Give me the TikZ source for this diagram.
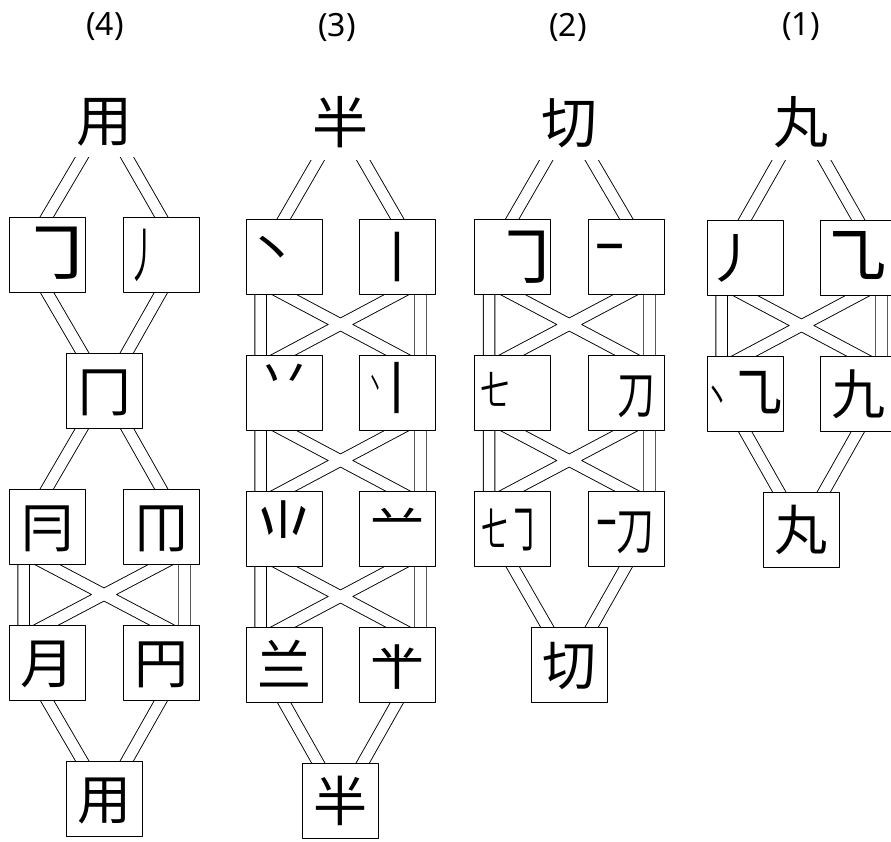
\documentclass[tikz,border=0pt]{standalone}
\usepackage{fontspec}
\usepackage{graphicx}
\newfontfamily\cjk{Noto Sans CJK TC}
\newfontfamily\numfont{Noto Sans}
\usetikzlibrary{calc,backgrounds}

% one stroke (or part) of a character, moved inside its box
\newcommand{\bihua}[3]{\makebox[0pt]{\hspace*{#1}\hspace*{#1}\raisebox{#2}{#3}}}
% a link between two anchors, run on into both ends
\newcommand{\lnk}[2]{($(#1)!-14pt!(#2)$) -- ($(#2)!-14pt!(#1)$)}

\begin{document}
\begin{tikzpicture}[
    x = 1pt, y = -1pt,
    line join=round,
    box/.style = {draw, line width=0.9pt, fill=white, minimum width=76pt, minimum height=75pt,
                  inner sep=0pt, text height=47.5pt, text depth=6.5pt, font=\cjk\fontsize{54}{54}\selectfont},
    title/.style = {fill=white, inner sep=0pt, minimum width=64pt, minimum height=74pt,
                  text height=49pt, text depth=7pt, font=\cjk\fontsize{56}{56}\selectfont},
    num/.style = {inner sep=0pt, font=\numfont\fontsize{32}{32}\selectfont},
    dbl/.style = {line width=0.9pt, double=white, double distance=10.6pt}
]
    \useasboundingbox (0,0) rectangle (891,841);

    % numbers
    \node[num] (n4) at (105,27) {(4)};
    \node[num] (n3) at (337,27) {(3)};
    \node[num] (n2) at (568,27) {(2)};
    \node[num] (n1) at (801,27) {(1)};

    % (4)
    \node[title] (t4) at (104.5,120) {用};
    \node[box] (a4) at (47,254.5) {\bihua{12pt}{-2pt}{\scalebox{1.5}[1.25]{㇆}}};
    \node[box] (b4) at (161,254.5) {\bihua{-18pt}{-2pt}{\scalebox{0.55}[1.1]{丿}}};
    \node[box] (c4) at (104.5,390.5) {\bihua{0pt}{0pt}{冂}};
    \node[box] (d4) at (47,526.5) {\bihua{0pt}{0pt}{冃}};
    \node[box] (e4) at (161,526.5) {\bihua{0pt}{0pt}{冂}\bihua{1pt}{0pt}{\scalebox{1}[0.88]{丨}}};
    \node[box] (f4) at (47,662.5) {\bihua{0pt}{0pt}{月}};
    \node[box] (g4) at (161,662.5) {\bihua{0pt}{0pt}{円}};
    \node[box] (h4) at (104.5,798.5) {\bihua{0pt}{0pt}{用}};

    % (3)
    \node[title] (t3) at (340.5,122.5) {半};
    \node[box] (a3) at (284,256.5) {\bihua{-12pt}{8pt}{丶}};
    \node[box] (b3) at (397,256.5) {\bihua{0pt}{0pt}{丨}};
    \node[box] (c3) at (284,392.5) {\bihua{0pt}{19pt}{丷}};
    \node[box] (d3) at (397,392.5) {\bihua{-8pt}{0pt}{\raisebox{15pt}{\scalebox{0.3}[0.7]{丶}}\raisebox{5pt}{\bfseries\scalebox{0.5}[1]{丨}}}};
    \node[box] (e3) at (284,528.5) {\bihua{0pt}{-40pt}{\scalebox{1.05}[2]{⺌}}};
    \node[box] (f3) at (397,528.5) {\bihua{0pt}{10pt}{䒑}};
    \node[box] (g3) at (284,664.5) {\bihua{0pt}{0pt}{兰}};
    \node[box] (h3) at (397,664.5) {\bihua{0pt}{6pt}{䒑}\bihua{0pt}{0pt}{\scalebox{1}[0.9]{丨}}};
    \node[box] (k3) at (340.5,800.5) {\bihua{0pt}{0pt}{半}};

    % (2)
    \node[title] (t2) at (569,122.5) {切};
    \node[box] (a2) at (512.5,256.5) {\bihua{16pt}{-4pt}{\scalebox{1.3}[1.25]{㇆}}};
    \node[box] (b2) at (626,256.5) {\bihua{-16pt}{10pt}{\scalebox{0.5}[1]{一}}};
    \node[box] (c2) at (512.5,392.5) {\bihua{-17pt}{8pt}{\scalebox{0.55}[0.75]{七}}};
    \node[box] (d2) at (626,392.5) {\bihua{10pt}{0pt}{\scalebox{0.7}[0.95]{刀}}};
    \node[box] (e2) at (512.5,528.5) {\bihua{-1pt}{0pt}{\raisebox{3pt}{\scalebox{0.5}[0.85]{七}}\scalebox{0.6}[1]{㇆}}};
    \node[box] (f2) at (626,528.5) {\bihua{0pt}{0pt}{\raisebox{6pt}{\scalebox{0.35}[1]{一}}\scalebox{0.7}[0.95]{刀}}};
    \node[box] (g2) at (569.5,664.5) {\bihua{0pt}{0pt}{切}};

    % (1)
    \node[title] (t1) at (801.5,122.5) {丸};
    \node[box] (a1) at (745,257.5) {\bihua{-12pt}{0pt}{丿}};
    \node[box] (b1) at (858,257.5) {\bihua{-3pt}{-4pt}{\scalebox{1.25}[1.3]{㇈}}};
    \node[box] (c1) at (745,393.5) {\bihua{0pt}{-2pt}{\raisebox{4pt}{\scalebox{0.45}[0.8]{丶}}\scalebox{1}[1.15]{㇈}}};
    \node[box] (d1) at (858,393.5) {\bihua{0pt}{0pt}{九}};
    \node[box] (e1) at (801.5,529.5) {\bihua{0pt}{0pt}{丸}};

    \begin{scope}[on background layer]
        % from each title down to its first pair
        \foreach \t/\l/\r in {t4/a4/b4, t3/a3/b3, t2/a2/b2, t1/a1/b1}
            \draw[dbl] \lnk{[xshift=-22.5pt]\t.south}{\l.north} \lnk{[xshift=22.5pt]\t.south}{\r.north};

        % one box splits into a pair
        \draw[dbl] \lnk{a4.south}{[xshift=-22.5pt]c4.north} \lnk{b4.south}{[xshift=22.5pt]c4.north};
        \draw[dbl] \lnk{[xshift=-22.5pt]c4.south}{d4.north} \lnk{[xshift=22.5pt]c4.south}{e4.north};

        % a pair crossing into the next pair
        \foreach \p/\q/\r/\s in {d4/e4/f4/g4, a3/b3/c3/d3, c3/d3/e3/f3, e3/f3/g3/h3,
                                 a2/b2/c2/d2, c2/d2/e2/f2, a1/b1/c1/d1}
            \draw[dbl] \lnk{[xshift=15pt]\p.south west}{[xshift=15pt]\r.north west}
                       \lnk{[xshift=-15pt]\q.south east}{[xshift=-15pt]\s.north east}
                       \lnk{\p.south}{\s.north} \lnk{\q.south}{\r.north};

        % a pair joins into the whole character
        \foreach \l/\r/\m in {f4/g4/h4, g3/h3/k3, e2/f2/g2, c1/d1/e1}
            \draw[dbl] \lnk{\l.south}{[xshift=-22.5pt]\m.north} \lnk{\r.south}{[xshift=22.5pt]\m.north};
    \end{scope}
\end{tikzpicture}
\end{document}
